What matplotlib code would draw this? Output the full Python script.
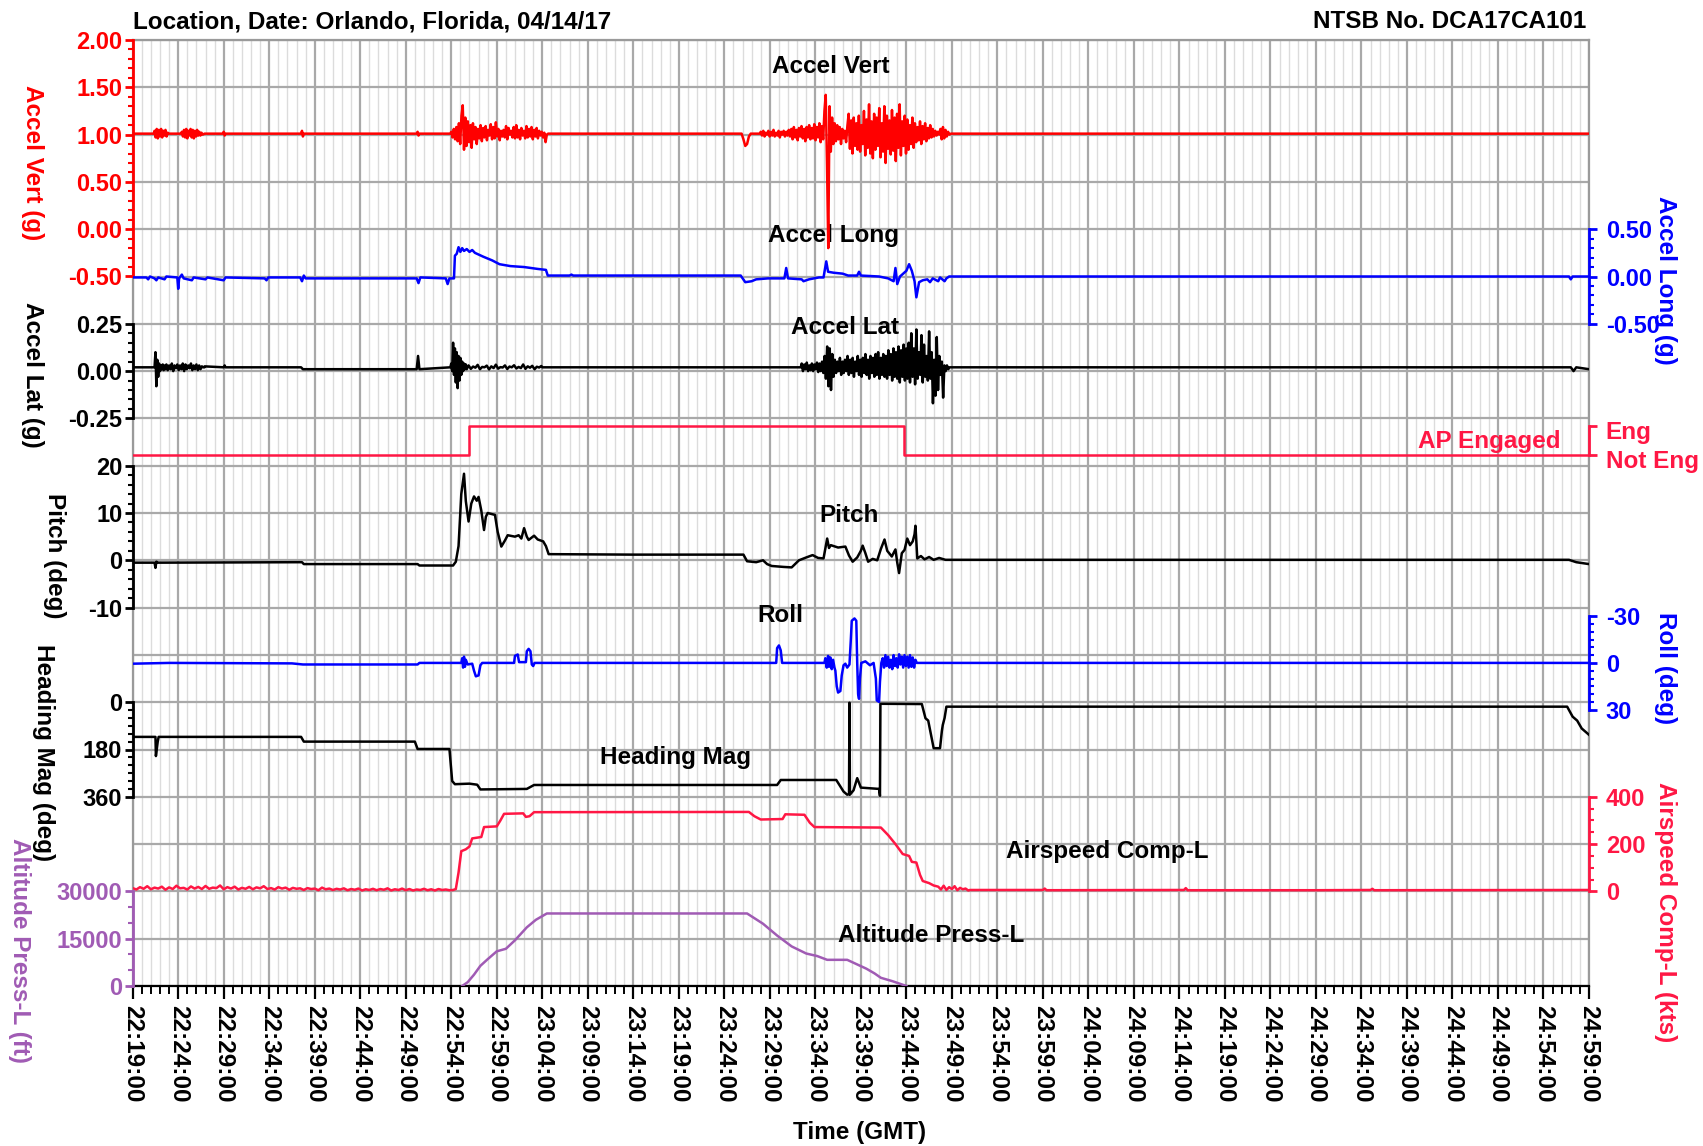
import numpy as np
import matplotlib
matplotlib.use("Agg")
import matplotlib.pyplot as plt
from matplotlib.ticker import MultipleLocator, FixedLocator, FuncFormatter, FormatStrFormatter, NullFormatter

plt.rcParams["font.family"] = ["Liberation Sans", "DejaVu Sans"]
plt.rcParams["font.weight"] = "bold"
plt.rcParams["axes.unicode_minus"] = False

FS = 17.5
TICK_FS = 17
START_MIN = 22 * 60 + 19      # 22:19:00 GMT, x = minutes after this
END_T = 160

RED = "#ff0000"
BLUE = "#0000ff"
PINK = "#ff1744"
PURPLE = "#a05bb4"
BLACK = "#000000"

# ---------------- data: (minutes after 22:19:00, value) ----------------
# Accel Vert (g)
VERT_PTS = [(0, 1.01), (2.3, 1.01), (4.0, 1.01), (5.3, 1.01), (7.9, 1.01), (9.9, 1.01),
            (10.0, 1.03), (10.1, 0.99), (10.2, 1.01), (18.5, 1.01), (18.6, 1.04), (18.7, 0.98),
            (18.8, 1.01), (31.2, 1.01), (31.3, 1.03), (31.4, 0.99), (31.5, 1.01), (34.9, 1.01),
            (45.8, 1.01), (66.9, 1.01), (67.1, 0.95), (67.3, 0.88), (67.5, 0.90), (67.7, 0.98),
            (67.9, 1.01), (68.9, 1.01), (89.9, 1.01), (160, 1.01)]
VERT_BURSTS = [
    (2.4, 0.12, [1.04, 0.97, 1.06, 0.96, 1.05, 0.98, 1.06, 0.97, 1.04, 0.99, 1.05, 0.98, 1.02]),
    (5.4, 0.12, [1.03, 0.98, 1.05, 0.97, 1.06, 0.96, 1.04, 0.99, 1.06, 0.97, 1.05, 0.96, 1.04,
                 0.98, 1.05, 0.99, 1.03, 0.99, 1.02, 1.00]),
    (35.0, 0.14, [1.03, 0.97, 1.06, 0.95, 1.08, 0.93,
                  1.12, 0.90, 1.20, 1.31, 0.84, 1.18,
                  0.88, 1.14, 0.92, 1.10, 0.86, 1.12,
                  0.95, 1.08, 0.90, 1.06, 0.96, 1.10, 0.93,
                  1.07, 0.97, 1.09, 0.94, 1.05, 0.99, 1.11, 0.95,
                  1.08, 0.96, 1.13, 0.98, 1.06, 0.94, 1.04, 0.98,
                  1.05, 0.97, 1.09, 0.95, 1.07, 1.00, 1.04, 0.97,
                  1.08, 0.96, 1.10, 0.97, 1.05, 0.95, 1.07, 0.99,
                  1.04, 0.96, 1.09, 0.97, 1.06, 0.98, 1.08, 0.95,
                  1.05, 0.98, 1.07, 0.96, 1.04, 0.99, 1.03, 0.97,
                  1.02, 0.92, 1.00, 1.01]),
    (69.0, 0.14, [1.03, 0.99, 1.04, 0.98, 1.02, 1.00, 1.04, 0.98, 1.03, 0.99, 1.05, 0.98,
                  1.02, 0.99, 1.04, 0.97, 1.03, 1.00, 1.04, 0.98, 1.03, 0.99, 1.05, 0.98,
                  1.06, 0.95, 1.08, 0.97, 1.05, 0.94, 1.07, 0.98, 1.09, 0.96, 1.06, 0.93, 1.08,
                  0.97, 1.10, 0.95, 1.07, 0.96, 1.11, 0.94, 1.08, 0.97, 1.12, 0.92, 1.09, 0.95,
                  1.25, 1.42, 0.70, -0.20, 1.30,
                  0.82, 1.18, 0.90, 1.12, 0.93, 1.10, 0.95, 1.08, 0.90, 1.06, 0.96, 1.04, 0.92, 1.09,
                  1.22, 0.85, 1.15, 0.80, 1.18, 0.88, 1.12, 0.84, 1.20, 0.82, 1.10, 0.90,
                  1.25, 0.78, 1.16, 0.86, 1.32, 0.80, 1.14, 0.75, 1.22, 0.84, 1.18, 0.88,
                  1.28, 0.76, 1.12, 0.82, 1.30, 0.70, 1.20, 0.85, 1.15, 0.79, 1.26, 0.83,
                  1.18, 0.72, 1.22, 0.86, 1.32, 0.78, 1.14, 0.88, 1.20, 0.80, 1.16, 0.84,
                  1.10, 0.90, 1.18, 0.86, 1.12, 0.92, 1.08, 0.94, 1.14, 0.90, 1.09, 0.95,
                  1.12, 0.93, 1.07, 0.96, 1.10, 0.97, 1.06, 0.98, 1.04, 0.99, 1.03, 1.00,
                  1.06, 0.95, 1.08, 0.96, 1.05, 0.98, 1.03, 1.00]),
]

# Accel Long (g)
LONG_PTS = [(0, -0.01), (1.5, -0.01), (1.7, -0.03), (1.9, 0.0), (2.4, -0.02), (2.6, -0.04),
            (2.8, -0.01), (3.5, -0.03), (3.7, 0.0), (4.9, -0.01), (5.0, -0.13), (5.1, -0.02),
            (5.4, 0.02), (5.6, -0.02), (6.5, -0.04), (6.7, -0.01), (8.0, -0.03), (8.2, -0.01),
            (10.0, -0.04), (10.2, -0.01), (14.5, -0.02), (14.7, -0.04), (14.9, -0.01),
            (18.4, -0.01), (18.6, -0.05), (18.8, 0.01), (19.0, -0.02), (31.2, -0.02),
            (31.4, -0.07), (31.6, -0.01), (34.4, -0.02), (34.6, -0.08), (34.8, -0.02),
            (35.3, -0.02), (35.4, 0.22), (35.6, 0.24), (35.8, 0.31), (36.0, 0.26), (36.2, 0.30),
            (36.4, 0.27), (36.7, 0.29), (37.0, 0.26), (37.3, 0.28), (37.6, 0.25), (38.5, 0.21),
            (39.5, 0.17), (40.3, 0.13), (41.5, 0.11), (43.0, 0.10), (44.5, 0.08), (45.4, 0.07),
            (45.6, 0.01), (48.0, 0.01), (48.2, 0.02), (48.4, 0.01), (66.8, 0.01), (67.3, -0.06),
            (68.0, -0.05), (68.5, -0.03), (69.8, -0.02), (71.6, -0.02), (71.8, 0.09), (72.0, -0.02),
            (73.5, -0.03), (73.7, -0.05), (74.3, -0.03), (75.4, -0.01), (75.9, -0.01), (76.2, 0.16),
            (76.4, 0.05), (77.0, 0.04), (78.0, 0.03), (78.6, 0.01), (79.6, 0.01), (79.8, 0.05),
            (80.0, 0.01), (82.0, 0.0), (83.0, -0.02), (83.6, -0.05), (83.8, 0.09), (84.0, -0.08),
            (84.3, 0.0), (85.0, 0.06), (85.3, 0.13), (85.6, 0.06), (85.9, -0.05), (86.1, -0.22),
            (86.4, -0.06), (86.8, -0.04), (87.3, -0.03), (87.6, -0.06), (87.9, -0.02), (88.5, -0.05),
            (88.7, -0.01), (89.2, -0.05), (89.4, -0.02), (89.7, 0.0), (157.8, 0.0), (158.0, -0.03),
            (158.2, 0.0), (160, 0.0)]

# Accel Lat (g)
LAT_PTS = [(0, 0.02), (2.4, 0.02), (7.9, 0.02), (10.0, 0.02), (10.1, 0.03), (10.2, 0.02),
           (18.5, 0.02), (18.7, 0.01), (31.2, 0.01), (31.35, 0.08), (31.5, 0.01), (34.9, 0.02),
           (45.0, 0.02), (73.4, 0.02), (89.8, 0.02), (158.0, 0.02), (158.3, 0.0), (158.6, 0.02),
           (160, 0.01)]
LAT_BURSTS = [
    (2.5, 0.1, [0.10, -0.08, 0.06, -0.03, 0.04, 0.00, 0.03, 0.01, 0.035, 0.005, 0.03, 0.01]),
    (3.7, 0.15, [0.035, 0.005, 0.03, 0.01, 0.04, 0.0, 0.03, 0.015, 0.035, 0.005, 0.03, 0.01,
                 0.04, 0.0, 0.035, 0.01, 0.03, 0.015, 0.04, 0.005, 0.03, 0.01, 0.035, 0.005,
                 0.03, 0.01, 0.025, 0.02, 0.025]),
    (35.0, 0.1, [0.04, 0.0, 0.15, -0.02, 0.12, -0.06, 0.10, -0.09, 0.08, -0.05, 0.07, -0.02,
                 0.05, 0.0, 0.04, 0.01, 0.035, 0.01]),
    (36.9, 0.25, [0.03, 0.012, 0.024, 0.018, 0.033, 0.01, 0.022, 0.02, 0.029, 0.009, 0.025,
                  0.016, 0.034, 0.013, 0.021, 0.019, 0.03, 0.011, 0.024, 0.02, 0.031, 0.014,
                  0.022, 0.016, 0.035, 0.012, 0.025, 0.018, 0.028, 0.01, 0.023, 0.019, 0.027]),
    (73.5, 0.14, [0.04, 0.0, 0.035, 0.01, 0.045, 0.0, 0.03, 0.005, 0.04, 0.0, 0.035, 0.01,
                  0.045, -0.005, 0.04, 0.0, 0.05, -0.01,
                  0.08, -0.04, 0.13, -0.08, 0.12, -0.10, 0.09, -0.03,
                  0.06, -0.01, 0.05, 0.0, 0.07, -0.02, 0.05, -0.01, 0.06, 0.0, 0.08, -0.02,
                  0.06, -0.01, 0.07, -0.03, 0.05, 0.0, 0.08, -0.02,
                  0.06, -0.03, 0.07, -0.01, 0.09, -0.02, 0.06, -0.04, 0.08, -0.01, 0.07, -0.03,
                  0.09, -0.02, 0.10, -0.04, 0.07, -0.02, 0.09, -0.03,
                  0.08, -0.04, 0.11, -0.02, 0.09, -0.05, 0.12, -0.03, 0.10, -0.04, 0.13, -0.06,
                  0.11, -0.03, 0.14, -0.05, 0.12, -0.04, 0.15, -0.06,
                  0.20, -0.03, 0.12, -0.07, 0.22, -0.04, 0.10, -0.02, 0.19, -0.06, 0.14, -0.03,
                  0.08, -0.05, 0.21, -0.04, 0.10, -0.17, 0.06, -0.13, 0.18, -0.10, 0.08, -0.02,
                  0.05, -0.14, 0.03, 0.0, 0.03, 0.01, 0.02]),
]

# Autopilot engaged (0 = Not Eng, 1 = Eng)
AP_T = [0, 37.0, 84.7, 160]
AP_V = [0, 1, 0, 0]

# Pitch (deg)
PITCH_PTS = [(0, -0.5), (2.4, -0.5), (2.5, -1.6), (2.6, -0.3), (2.8, -0.5), (18.6, -0.4),
             (18.8, -0.8), (31.3, -0.8), (31.5, -1.1), (35.2, -1.1), (35.5, -0.3), (35.8, 3.0),
             (36.1, 14.0), (36.4, 18.3), (36.6, 12.5), (36.9, 8.2), (37.2, 12.0), (37.5, 13.5),
             (37.8, 12.6), (38.0, 13.4), (38.3, 10.5), (38.6, 6.4), (38.8, 9.2), (39.0, 10.0),
             (39.8, 9.6), (40.1, 6.0), (40.5, 2.9), (40.9, 4.2), (41.2, 5.3), (42.0, 5.0),
             (42.4, 5.3), (42.7, 4.6), (43.0, 6.8), (43.3, 5.0), (43.5, 4.3), (44.1, 5.2),
             (44.5, 4.4), (45.1, 4.0), (45.4, 3.0), (45.7, 1.3), (55.0, 1.2), (67.1, 1.2),
             (67.5, -0.2), (68.5, -0.4), (69.25, 0.0), (69.7, -0.8), (70.2, -1.2), (71.5, -1.4),
             (72.4, -1.5), (73.2, 0.0), (74.0, 0.6), (74.7, 1.1), (75.3, 0.5), (75.9, 0.4),
             (76.1, 2.5), (76.3, 4.6), (76.5, 2.6), (76.7, 3.2), (77.5, 2.7), (78.3, 2.9),
             (78.7, 1.0), (79.1, -0.3), (79.6, 0.6), (80.0, 2.0), (80.2, 3.1), (80.5, 1.5),
             (80.8, -0.3), (81.3, 0.3), (81.8, 0.0), (82.2, 2.4), (82.6, 4.4), (82.9, 2.0),
             (83.4, 0.8), (83.8, 2.3), (84.0, -0.5), (84.2, -2.7), (84.5, 1.5), (84.8, 2.2),
             (85.1, 4.6), (85.4, 3.2), (85.7, 4.0), (85.9, 5.5), (86.0, 7.3), (86.2, 0.4),
             (86.6, 0.9), (87.0, 0.2), (87.5, 0.7), (88.0, 0.1), (88.6, 0.5), (89.3, 0.1),
             (157.8, 0.1), (158.6, -0.4), (160, -0.8)]

# Roll (deg)
ROLL_PTS = [(0, 0.5), (4.0, 0.0), (17.5, 0.3), (18.7, 1.0), (31.3, 1.0), (31.5, 0.0), (36.1, 0.0),
            (36.2, -3), (36.3, 3), (36.4, -4), (36.5, 2.5), (36.6, -2), (36.8, 1), (37.3, 0.5),
            (37.5, 5), (37.7, 8.6), (38.0, 8.0), (38.2, 1.5), (38.4, 0.0), (41.9, 0.0),
            (42.0, -4.5), (42.3, -5.4), (42.45, -0.5), (43.2, -0.5), (43.3, -7.5), (43.5, -9.0),
            (43.7, -7.5), (43.85, 1.0), (44.0, 2.0), (44.15, 0.0), (70.7, 0.0), (70.8, -9.5),
            (71.0, -11.2), (71.2, -8.0), (71.35, 0.0), (76.0, 0.0), (76.1, -3.0), (76.25, 3.0),
            (76.4, -4.5), (76.5, 2.5), (76.65, -3.5), (76.8, 4.0), (76.95, -2.0), (77.1, 3.0),
            (77.2, 5.0), (77.35, 15.0), (77.5, 19.0), (77.75, 18.0), (77.9, 8.0), (78.1, 1.5),
            (78.3, 0.5), (78.5, 3.0), (78.75, 1.0), (78.9, -15.0), (79.0, -27.0), (79.3, -28.5),
            (79.5, -27.0), (79.6, 0.0), (79.7, 20.0), (79.8, 23.0), (79.9, 10.0), (80.05, 0.0),
            (80.5, -1.0), (81.0, 1.5), (81.4, 0.0), (81.65, 10.0), (81.75, 24.0), (82.0, 25.0),
            (82.1, 12.0), (82.25, 0.0), (82.4, -3.0), (82.55, 3.0), (82.7, -5.0), (82.85, 2.0),
            (83.0, -4.0), (83.15, 3.0), (83.3, -2.0), (83.45, 4.0), (83.6, -5.0), (83.75, 2.0),
            (83.9, -3.0), (84.05, 3.0), (84.2, -5.5), (84.35, 1.0), (84.5, -4.0), (84.65, 3.0),
            (84.8, -5.0), (84.95, 2.0), (85.1, -4.0), (85.25, 3.0), (85.4, -5.0), (85.55, 2.5),
            (85.7, -3.5), (85.85, 3.0), (86.0, -2.0), (86.15, 0.0), (160, 0.0)]

# Heading Mag (deg)
HDG_PTS = [(0, 132), (2.5, 132), (2.55, 205), (2.75, 150), (2.85, 132), (18.5, 132),
           (18.8, 150), (31.0, 150), (31.3, 178), (34.8, 178), (35.1, 300), (35.4, 312),
           (37.0, 310), (37.85, 314), (38.2, 332), (43.3, 330), (44.1, 315), (70.8, 315),
           (71.2, 296), (77.3, 296), (78.1, 340), (78.5, 352), (78.7, 350), (78.75, 2),
           (78.8, 352), (79.2, 335), (79.6, 289), (80.0, 325), (82.0, 330), (82.1, 356),
           (82.15, 6), (86.7, 7), (87.1, 61), (87.4, 70), (88.0, 175), (88.7, 175), (88.9, 110),
           (89.0, 87), (89.2, 60), (89.4, 17), (157.6, 17), (158.2, 55), (158.7, 70),
           (159.2, 100), (160, 124)]

# Airspeed Comp-L (kts)
SPD_PTS = [(35.5, 10), (35.8, 80), (36.1, 170), (36.6, 178), (37.0, 190), (37.3, 224),
           (38.3, 230), (38.6, 272), (40.0, 275), (40.4, 300), (40.8, 328), (42.9, 330),
           (43.2, 315), (43.6, 318), (44.1, 335), (67.7, 336), (68.3, 318), (69.0, 304),
           (71.4, 306), (71.7, 326), (73.8, 324), (74.4, 290), (74.9, 272), (82.2, 270),
           (83.0, 238), (83.8, 200), (84.6, 158), (85.3, 150), (85.6, 125), (86.1, 122),
           (86.5, 70), (86.8, 44), (87.5, 35), (88.0, 25), (92.0, 6), (100.0, 6), (100.2, 12),
           (100.4, 5), (115.5, 6), (115.7, 14), (115.9, 5), (130.0, 5), (136.0, 6), (136.2, 11),
           (136.4, 5), (160, 6)]
SPD_BURSTS = [
    (0.0, 0.4, [14, 8, 18, 11, 22, 9, 16, 12, 20, 7, 17, 10, 24, 13, 15, 8, 21, 12, 19, 10,
                23, 11, 16, 14, 25, 9, 18, 12, 20, 8, 15, 11, 19, 9, 17, 13, 22, 10, 14, 8,
                18, 12, 16, 7, 15, 11, 13, 6, 14, 10, 12, 5, 16, 9, 12, 6, 11, 8, 13, 5,
                10, 7, 12, 4, 9, 6, 11, 5, 10, 7, 13, 4, 9, 6, 12, 5, 10, 4, 8, 6, 11, 5, 9,
                4, 10, 6, 8, 5, 6]),
    (88.5, 0.3, [20, 8, 24, 6, 18, 10, 22, 5, 15, 9, 12, 4]),
]

# Altitude Press-L (ft)
ALT_PTS = [(36.2, 0), (36.8, 1200), (37.5, 3600), (38.2, 6400), (39.0, 8500), (40.0, 11000),
           (41.0, 11800), (42.0, 14500), (43.3, 18600), (44.3, 21000), (45.5, 23000),
           (67.5, 23000), (69.25, 19750), (70.8, 16000), (72.4, 12550), (74.0, 10300),
           (75.2, 9500), (76.3, 8300), (78.5, 8300), (80.6, 5500), (81.5, 4000), (82.2, 2600),
           (83.5, 1500), (85.0, 0)]


def build(points, bursts=()):
    t = [p[0] for p in points]
    v = [p[1] for p in points]
    for t0, dt, vals in bursts:
        t += list(t0 + dt * np.arange(len(vals)))
        v += list(vals)
    order = np.argsort(t, kind="stable")
    return np.asarray(t)[order], np.asarray(v)[order]


def clock(x, pos=None):
    m = START_MIN + x
    return f"{int(m // 60)}:{int(round(m % 60)):02d}:00"


fig = plt.figure(figsize=(17.03, 11.46), dpi=100)
L, R = 132.7 / 1703, 1589 / 1703
B, T = 1 - 986 / 1146, 1 - 40 / 1146
rect = [L, B, R - L, T - B]

# base axes: grid, frame and time axis
base = fig.add_axes(rect)
base.set_xlim(0, END_T)
base.set_ylim(20, 0)
base.yaxis.set_major_locator(MultipleLocator(1))
base.tick_params(axis="y", left=False, labelleft=False)
base.xaxis.set_major_locator(MultipleLocator(5))
base.xaxis.set_minor_locator(MultipleLocator(1))
base.xaxis.set_major_formatter(FuncFormatter(clock))
base.grid(which="major", color="#a9a9a9", lw=1.6)
base.grid(which="minor", axis="x", color="#dcdcdc", lw=1.0)
base.tick_params(axis="x", which="major", length=9, width=1.6, direction="out",
                 labelsize=FS, pad=5)
base.tick_params(axis="x", which="minor", length=5.5, width=1.4, direction="out")
for lbl in base.get_xticklabels():
    lbl.set_rotation(-90)
    lbl.set_va("top")
    lbl.set_ha("center")
for side in ("top", "right", "left"):
    base.spines[side].set_color("#9a9a9a")
    base.spines[side].set_linewidth(1.6)
base.spines["bottom"].set_linewidth(1.6)


def panel(side, color, ylim, bounds, majors, minor_step, fmt):
    ax = fig.add_axes(rect)
    ax.patch.set_visible(False)
    ax.set_xlim(0, END_T)
    ax.set_ylim(*ylim)
    for s in ax.spines.values():
        s.set_visible(False)
    sp = ax.spines[side]
    sp.set_visible(True)
    sp.set_color(color)
    sp.set_linewidth(2.0)
    sp.set_bounds(*bounds)
    ax.tick_params(axis="x", which="both", bottom=False, top=False, labelbottom=False)
    ax.yaxis.set_ticks_position(side)
    ax.yaxis.set_major_locator(FixedLocator(majors))
    if minor_step:
        lo, hi = bounds
        ax.yaxis.set_minor_locator(FixedLocator(np.arange(lo, hi + minor_step * 0.01, minor_step)))
    if fmt:
        ax.yaxis.set_major_formatter(FormatStrFormatter(fmt))
    else:
        ax.yaxis.set_major_formatter(NullFormatter())
    pad = 1.5 if side == "left" else 6
    ax.tick_params(axis="y", which="major", length=6, width=2.0, colors=color,
                   labelsize=TICK_FS, pad=pad, direction="out")
    ax.tick_params(axis="y", which="minor", length=3.5, width=1.5, colors=color, direction="out")
    return ax


ax_vert = panel("left", RED, (-8.0, 2.0), (-0.5, 2.0), [2.0, 1.5, 1.0, 0.5, 0.0, -0.5], 0.1, "%.2f")
ax_long = panel("right", BLUE, (-7.5, 2.5), (-0.5, 0.5), [-0.5, 0.0, 0.5], 0.1, "%.2f")
ax_lat = panel("left", BLACK, (-3.25, 1.75), (-0.25, 0.25), [-0.25, 0.0, 0.25], 0.05, "%.2f")
ax_ap = panel("right", PINK, (-18.41, 14.38), (0, 1), [0, 1], None, None)
ax_pitch = panel("left", BLACK, (-90, 110), (-10, 20), [-10, 0, 10, 20], 2, "%d")
ax_roll = panel("right", BLUE, (207.0, -399.1), (-30, 30), [-30, 0, 30], 5, "%d")
ax_hdg = panel("left", BLACK, (1080, -2520), (0, 360), [0, 180, 360], 30, "%d")
ax_spd = panel("right", PINK, (-400, 3600), (0, 400), [0, 200, 400], 50, "%d")
ax_alt = panel("left", PURPLE, (0, 300000), (0, 30000), [0, 15000, 30000], 5000, "%d")

LW = 1.8
ax_vert.plot(*build(VERT_PTS, VERT_BURSTS), color=RED, lw=LW)
ax_long.plot(*build(LONG_PTS), color=BLUE, lw=LW)
ax_lat.plot(*build(LAT_PTS, LAT_BURSTS), color=BLACK, lw=LW)
ax_ap.plot(AP_T, AP_V, color=PINK, lw=LW, drawstyle="steps-post")
ax_pitch.plot(*build(PITCH_PTS), color=BLACK, lw=LW)
ax_roll.plot(*build(ROLL_PTS), color=BLUE, lw=LW)
ax_hdg.plot(*build(HDG_PTS), color=BLACK, lw=LW)
ax_spd.plot(*build(SPD_PTS, SPD_BURSTS), color=PINK, lw=LW)
ax_alt.plot(*build(ALT_PTS), color=PURPLE, lw=LW)

# AP discrete labels
ax_ap.annotate("Eng", xy=(1, 1), xycoords=("axes fraction", "data"), xytext=(12, -5),
               textcoords="offset points", ha="left", va="center", color=PINK, fontsize=FS)
ax_ap.annotate("Not Eng", xy=(1, 0), xycoords=("axes fraction", "data"), xytext=(12, -5),
               textcoords="offset points", ha="left", va="center", color=PINK, fontsize=FS)

# parameter names inside the plot (x in minutes, y in grid rows)
inner = [("Accel Vert", 76.7, 0.57, BLACK, "center"),
         ("Accel Long", 77.0, 4.14, BLACK, "center"),
         ("Accel Lat", 78.3, 6.07, BLACK, "center"),
         ("Pitch", 78.7, 10.06, BLACK, "center"),
         ("Roll", 71.2, 12.16, BLACK, "center"),
         ("Heading Mag", 59.6, 15.16, BLACK, "center"),
         ("Airspeed Comp-L", 107.1, 17.15, BLACK, "center"),
         ("Altitude Press-L", 87.7, 18.94, BLACK, "center"),
         ("AP Engaged", 156.9, 8.48, PINK, "right")]
for s, x, y, c, ha in inner:
    base.text(x, y, s, color=c, ha=ha, va="center", fontsize=FS, zorder=5)

# axis titles
W_PX, H_PX = 1703.0, 1146.0
ylabels = [("Accel Vert (g)", 32.6, 163, RED),
           ("Accel Lat (g)", 32.6, 375, BLACK),
           ("Pitch (deg)", 54, 556, BLACK),
           ("Heading Mag (deg)", 43.4, 753, BLACK),
           ("Altitude Press-L (ft)", 19.5, 950, PURPLE),
           ("Accel Long (g)", 1666, 280, BLUE),
           ("Roll (deg)", 1666, 668, BLUE),
           ("Airspeed Comp-L (kts)", 1666, 912, PINK)]
for s, x, y, c in ylabels:
    fig.text(x / W_PX, 1 - y / H_PX, s, rotation=-90, ha="center", va="center",
             color=c, fontsize=FS)

fig.text(L, 1 - 21.7 / H_PX, "Location, Date: Orlando, Florida, 04/14/17",
         ha="left", va="center", fontsize=FS)
fig.text(1586 / W_PX, 1 - 21.7 / H_PX, "NTSB No. DCA17CA101",
         ha="right", va="center", fontsize=FS)
fig.text(860 / W_PX, 1 - 1132 / H_PX, "Time (GMT)", ha="center", va="center", fontsize=FS)

fig.savefig("out.png", dpi=100)
